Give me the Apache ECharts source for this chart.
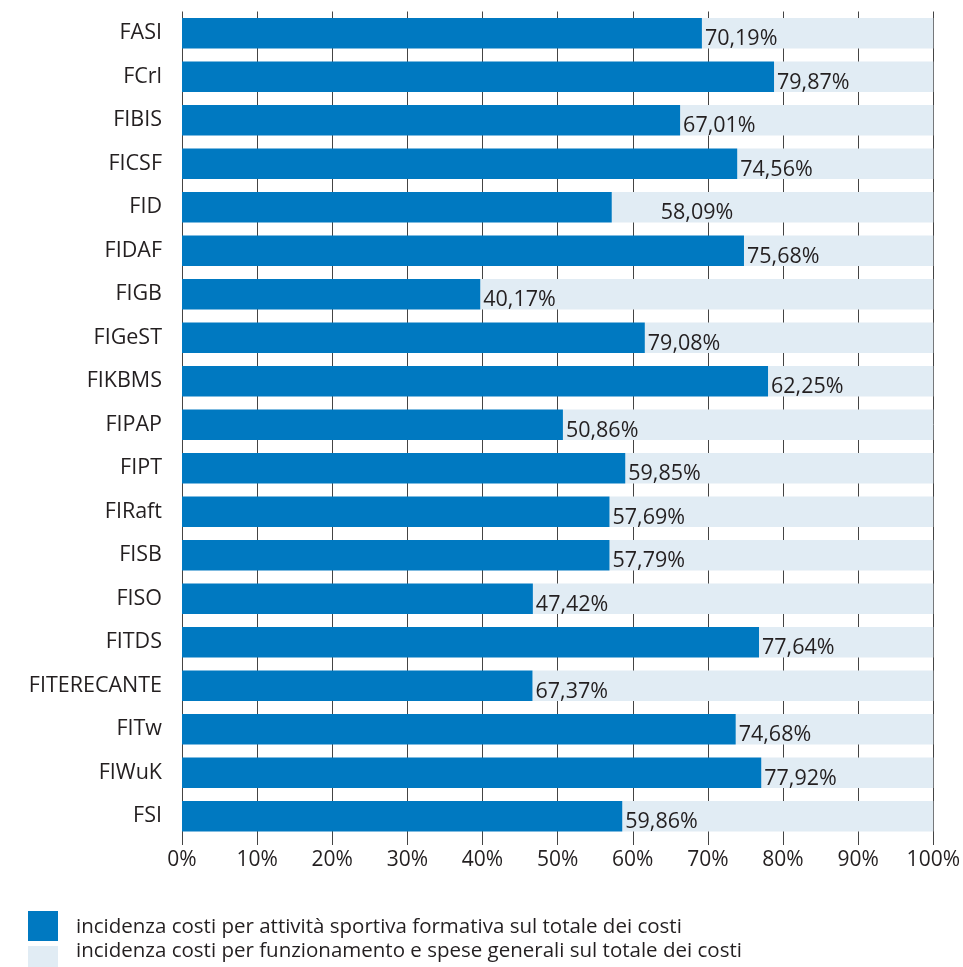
<!DOCTYPE html>
<html>
<head>
<meta charset="utf-8">
<script src="https://cdn.jsdelivr.net/npm/echarts@6/dist/echarts.min.js"></script>
<style>html,body{margin:0;padding:0;background:#fff}#c{width:963px;height:967px}</style>
</head>
<body>
<div id="c"></div>
<script>
const categories = ['FASI','FCrl','FIBIS','FICSF','FID','FIDAF','FIGB','FIGeST','FIKBMS','FIPAP','FIPT','FIRaft','FISB','FISO','FITDS','FITERECANTE','FITw','FIWuK','FSI'];
const sportValues = [69.2,78.8,66.3,73.9,57.2,74.8,39.7,61.6,78.0,50.7,59.0,56.9,56.9,46.7,76.8,46.65,73.7,77.1,58.6];
const generalValues = sportValues.map(v => +(100 - v).toFixed(2));
const valueLabels = ['70,19%','79,87%','67,01%','74,56%','58,09%','75,68%','40,17%','79,08%','62,25%','50,86%','59,85%','57,69%','57,79%','47,42%','77,64%','67,37%','74,68%','77,92%','59,86%'];
const seriesNames = ['incidenza costi per attività sportiva formativa sul totale dei costi','incidenza costi per funzionamento e spese generali sul totale dei costi'];
const xTicks = [0,10,20,30,40,50,60,70,80,90,100];

const DARK = '#0079c1', LIGHT = '#e1ecf4';
const FONT = '"Open Sans"';
const TXT = '#231f20';

const sportData = sportValues.map((v, i) => {
  const item = { value: v };
  if (categories[i] === 'FID') item.label = { offset: [46, 6] };
  return item;
});

const chart = echarts.init(document.getElementById('c'));
chart.setOption({
  animation: false,
  textStyle: { fontFamily: FONT },
  grid: { left: 182, right: 27, top: 11.5, bottom: 129, containLabel: false },
  xAxis: {
    type: 'value', min: 0, max: 100, interval: 10,
    axisLine: { show: false },
    axisTick: { show: true, length: 7, lineStyle: { color: '#444', width: 1 } },
    splitLine: { show: true, lineStyle: { color: '#444', width: 1 } },
    axisLabel: { fontFamily: FONT, fontSize: 21, color: TXT, margin: 12,
      formatter: v => xTicks.includes(v) ? v + '%' : '' }
  },
  yAxis: {
    type: 'category', data: categories, inverse: true,
    axisLine: { show: false }, axisTick: { show: false },
    axisLabel: { fontFamily: FONT, fontSize: 21.5, color: TXT, margin: 20 }
  },
  series: [
    {
      name: seriesNames[0], type: 'bar', stack: 'tot', barWidth: 30.5,
      itemStyle: { color: DARK }, data: sportData,
      label: { show: true, position: 'right', distance: 3, offset: [0, 6],
        fontFamily: FONT, fontSize: 21.5, color: TXT,
        formatter: p => valueLabels[p.dataIndex] },
      z: 3
    },
    {
      name: seriesNames[1], type: 'bar', stack: 'tot', barWidth: 30.5,
      itemStyle: { color: LIGHT }, data: generalValues, z: 2
    }
  ],
  graphic: [
    { type: 'rect', left: 28, top: 911, shape: { width: 30, height: 30 }, style: { fill: DARK } },
    { type: 'rect', left: 28, top: 946, shape: { width: 30, height: 30 }, style: { fill: LIGHT } },
    { type: 'text', x: 76, y: 927, style: { text: seriesNames[0], fontFamily: FONT, fontSize: 20.5, fill: TXT, verticalAlign: 'middle' } },
    { type: 'text', x: 76, y: 951, style: { text: seriesNames[1], fontFamily: FONT, fontSize: 20.5, fill: TXT, verticalAlign: 'middle' } }
  ]
});
</script>
</body>
</html>
